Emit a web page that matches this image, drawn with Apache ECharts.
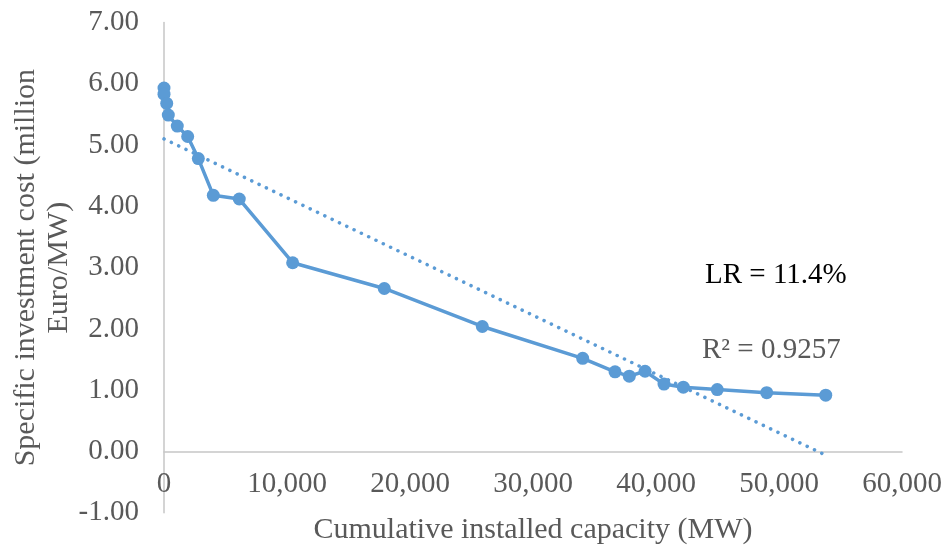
<!DOCTYPE html>
<html>
<head>
<meta charset="utf-8">
<script src="https://cdn.jsdelivr.net/npm/echarts@6/dist/echarts.min.js"></script>
<style>
html,body{margin:0;padding:0;background:#fff;}
#chart{width:947px;height:551px;}
</style>
</head>
<body>
<div id="chart"></div>
<script>
// Cumulative installed capacity (MW)
const capacity = [0, 0, 220, 350, 1080, 1925, 2790, 4010, 6120, 10460, 17910, 25880, 34040, 36670, 37830, 39110, 40650, 42220, 44980, 49000, 53800];
// Specific investment cost (million Euro/MW)
const cost = [5.93, 5.83, 5.68, 5.49, 5.31, 5.14, 4.78, 4.18, 4.12, 3.08, 2.66, 2.04, 1.52, 1.30, 1.23, 1.31, 1.10, 1.05, 1.01, 0.96, 0.92];
// Linear trendline endpoints
const trendX = [0, 53800];
const trendY = [5.10, -0.06];
const xTicks = [0, 10000, 20000, 30000, 40000, 50000, 60000];
const yTicks = [-1, 0, 1, 2, 3, 4, 5, 6, 7];
const annotationLR = 'LR = 11.4%';
const annotationR2 = 'R² = 0.9257';

const FONT = '"Liberation Serif", "DejaVu Serif", serif';
const chart = echarts.init(document.getElementById('chart'), null, {renderer: 'canvas'});

chart.setOption({
  animation: false,
  backgroundColor: '#ffffff',
  grid: {left: 164, right: 45, top: 22.5, bottom: 38.2, containLabel: false, outerBoundsMode: 'none'},
  xAxis: {
    type: 'value',
    min: xTicks[0],
    max: xTicks[xTicks.length - 1],
    interval: xTicks[1] - xTicks[0],
    name: 'Cumulative installed capacity (MW)',
    nameLocation: 'middle',
    nameGap: 2,
    nameTextStyle: {fontFamily: FONT, fontSize: 30, color: '#595959'},
    axisLine: {show: true, onZero: true, lineStyle: {color: '#c6c6c6', width: 1.5}},
    axisTick: {show: false},
    splitLine: {show: false},
    axisLabel: {
      fontFamily: FONT, fontSize: 29, color: '#595959', margin: -43,
      formatter: v => v.toLocaleString('en-US')
    }
  },
  yAxis: {
    type: 'value',
    min: yTicks[0],
    max: yTicks[yTicks.length - 1],
    interval: yTicks[1] - yTicks[0],
    name: 'Specific investment cost (million\nEuro/MW)',
    nameLocation: 'middle',
    nameGap: 88,
    nameMoveOverlap: false,
    nameTextStyle: {fontFamily: FONT, fontSize: 30, color: '#595959', lineHeight: 33},
    axisLine: {show: true, onZero: false, lineStyle: {color: '#c6c6c6', width: 1.5}},
    axisTick: {show: false},
    splitLine: {show: false},
    axisLabel: {
      fontFamily: FONT, fontSize: 29, color: '#595959', margin: 25,
      formatter: v => v.toFixed(2)
    }
  },
  series: [
    {
      type: 'line',
      data: trendX.map((x, i) => [x, trendY[i]]),
      symbol: 'none',
      lineStyle: {color: '#5b9bd5', width: 3.5, type: [0.1, 8], cap: 'round'},
      z: 1
    },
    {
      type: 'line',
      data: capacity.map((x, i) => [x, cost[i]]),
      symbol: 'circle',
      symbolSize: 13,
      itemStyle: {color: '#5b9bd5'},
      lineStyle: {color: '#5b9bd5', width: 3.5},
      z: 2
    }
  ],
  graphic: [
    {type: 'text', left: 705, top: 261, style: {text: annotationLR, font: '29px ' + FONT, fill: '#000000'}},
    {type: 'text', left: 702, top: 336, style: {text: annotationR2, font: '29px ' + FONT, fill: '#595959'}}
  ]
});
</script>
</body>
</html>
